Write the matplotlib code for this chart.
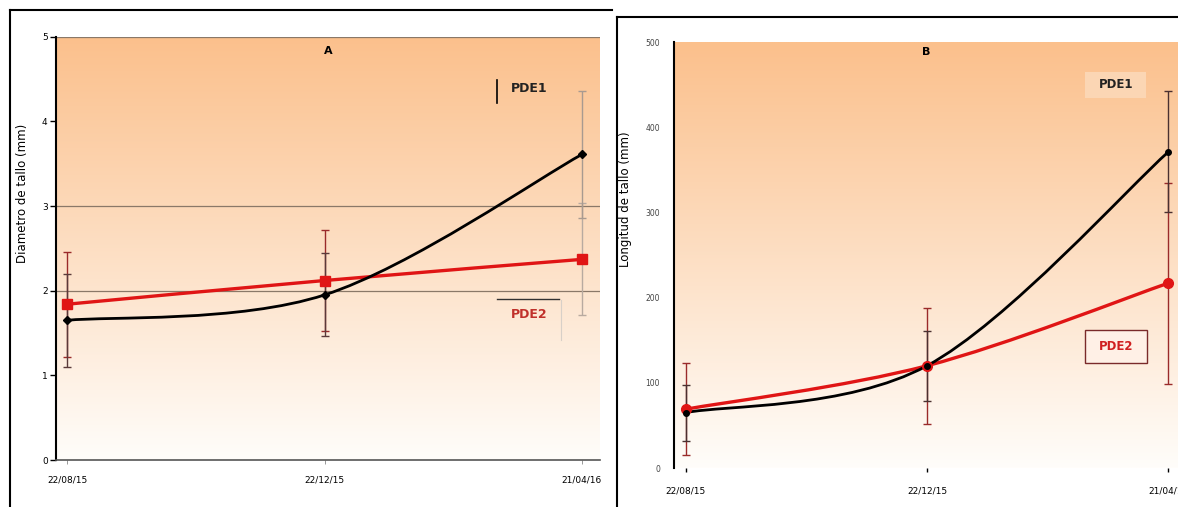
import matplotlib
matplotlib.use("Agg")
import matplotlib.pyplot as plt
import numpy as np
from matplotlib.path import Path
from matplotlib.patches import PathPatch, Rectangle
from matplotlib.lines import Line2D

# sampling dates (same for both panels)
dates = ["22/08/15", "22/12/15", "21/04/16"]

# panel A: stem diameter (mm)
diam_pde1 = [1.65, 1.95, 3.61]
diam_pde1_err = [0.55, 0.49, 0.75]
diam_pde2 = [1.84, 2.12, 2.37]
diam_pde2_err = [0.62, 0.60, 0.66]
diam_ticks = [0, 1, 2, 3, 4, 5]

# panel B: stem length (mm)
long_pde1 = [65, 120, 371]
long_pde1_err = [33, 41, 71]
long_pde2 = [69, 120, 217]
long_pde2_err = [54, 68, 118]
long_ticks = [0, 100, 200, 300, 400, 500]

W, H = 1178, 507


def fx(px):
    return px / W


def fy(py):
    return 1 - py / H


def smooth_path(xs, ys):
    # excel-like smoothed line: catmull-rom segments as cubic beziers
    pts = np.column_stack([xs, ys]).astype(float)
    n = len(pts)
    verts = [pts[0]]
    codes = [Path.MOVETO]
    for i in range(n - 1):
        p0 = pts[max(i - 1, 0)]
        p1 = pts[i]
        p2 = pts[i + 1]
        p3 = pts[min(i + 2, n - 1)]
        verts += [p1 + (p2 - p0) / 6, p2 - (p3 - p1) / 6, p2]
        codes += [Path.CURVE4] * 3
    return Path(verts, codes)


def gradient_bg(ax):
    top = np.array([251, 192, 140]) / 255
    bottom = np.array([255, 253, 250]) / 255
    t = np.linspace(0, 1, 256)[:, None]
    grad = top * (1 - t) + bottom * t
    grad = np.repeat(grad[:, None, :], 2, axis=1)
    ax.imshow(grad, extent=[0, 1, 0, 1], transform=ax.transAxes,
              aspect="auto", zorder=0, interpolation="bilinear")


def draw_series(ax, x, y, err, line_color, err_colors, marker, ms, lw):
    # err_colors: one colour per point
    for xi, yi, ei, ci in zip(x, y, err, err_colors):
        ax.errorbar([xi], [yi], yerr=[ei], fmt="none", ecolor=ci, elinewidth=1.0,
                    capsize=3, capthick=1.0, zorder=2)
    ax.add_patch(PathPatch(smooth_path(x, y), fill=False, edgecolor=line_color,
                           lw=lw, zorder=3, capstyle="round"))
    ax.plot(x, y, linestyle="none", marker=marker, ms=ms, color=line_color, zorder=4)


fig = plt.figure(figsize=(11.78, 5.07), dpi=100)
x = np.arange(len(dates))

# ---- panel A ----
ax_a = fig.add_axes([fx(56), fy(460), fx(600) - fx(56), fy(36.7) - fy(460)])
gradient_bg(ax_a)
for g in [2, 3, 5]:
    ax_a.axhline(g, color="#8a7868", lw=0.9, zorder=1)
draw_series(ax_a, x, diam_pde2, diam_pde2_err, "#e01515",
            ["#9a2a2a", "#9a2a2a", "#b8aaa0"], "s", 7, 2.4)
draw_series(ax_a, x, diam_pde1, diam_pde1_err, "black",
            ["#5a3a3a", "#5a3a3a", "#a89a90"], "D", 4, 2.0)
ax_a.set_xlim(-0.043, 2.07)
ax_a.set_ylim(0, 5)
ax_a.set_yticks(diam_ticks)
ax_a.set_yticklabels([str(t) for t in diam_ticks], fontsize=6.5)
ax_a.set_xticks(x)
ax_a.set_xticklabels(dates, fontsize=6.5)
ax_a.tick_params(axis="y", length=4, width=1, pad=2)
ax_a.tick_params(axis="x", length=3, width=0.6, color="#888888", pad=8)
ax_a.spines["top"].set_visible(False)
ax_a.spines["right"].set_visible(False)
ax_a.spines["left"].set_linewidth(1.5)
ax_a.spines["bottom"].set_color("#555555")
ax_a.spines["bottom"].set_linewidth(1.2)
ax_a.set_title("A", fontsize=8, fontweight="bold", y=0.94)
fig.text(fx(23), fy(193), "Diametro de tallo (mm)", rotation=90, fontsize=8.5,
         ha="center", va="center")

# legend-like labels for A
fig.text(fx(529), fy(88), "PDE1", fontsize=9, fontweight="bold", color="#222222",
         ha="center", va="center")
fig.add_artist(Line2D([fx(497), fx(497)], [fy(80), fy(103)], transform=fig.transFigure,
                      color="black", lw=1.2))
fig.text(fx(529), fy(315), "PDE2", fontsize=9, fontweight="bold", color="#c0302a",
         ha="center", va="center")
fig.add_artist(Line2D([fx(497), fx(559)], [fy(299), fy(299)], transform=fig.transFigure,
                      color="#333333", lw=1.0))
fig.add_artist(Line2D([fx(561), fx(561)], [fy(300), fy(340)], transform=fig.transFigure,
                      color="#d8d0c8", lw=0.8))

# ---- panel B ----
ax_b = fig.add_axes([fx(674), fy(468), fx(1178) - fx(674), fy(42) - fy(468)])
gradient_bg(ax_b)
draw_series(ax_b, x, long_pde2, long_pde2_err, "#e01515",
            ["#9a2a2a"] * 3, "o", 7, 2.4)
draw_series(ax_b, x, long_pde1, long_pde1_err, "black",
            ["#4a3030"] * 3, "o", 4, 2.0)
ax_b.set_xlim(-0.048, 2.04)
ax_b.set_ylim(0, 500)
ax_b.set_yticks(long_ticks)
ax_b.set_yticklabels([str(t) for t in long_ticks], fontsize=5.5, color="#444444")
ax_b.set_xticks(x)
ax_b.set_xticklabels(dates, fontsize=6.5)
ax_b.tick_params(axis="y", length=0, pad=10)
ax_b.tick_params(axis="x", length=3, width=1, pad=10)
for s in ["top", "right", "bottom"]:
    ax_b.spines[s].set_visible(False)
ax_b.spines["left"].set_linewidth(1.5)
ax_b.set_title("B", fontsize=8, fontweight="bold", y=0.95)
fig.text(fx(625), fy(199), "Longitud de tallo (mm)", rotation=90, fontsize=8.5,
         ha="center", va="center")

# legend-like labels for B
fig.add_artist(Rectangle((fx(1085), fy(98)), fx(1146) - fx(1085), fy(72) - fy(98),
                         transform=fig.transFigure, facecolor="#fbd6b4",
                         edgecolor="none", zorder=5))
fig.text(fx(1116), fy(85), "PDE1", fontsize=8.5, fontweight="bold", color="#222222",
         ha="center", va="center", zorder=6)
fig.add_artist(Rectangle((fx(1085), fy(363)), fx(1147) - fx(1085), fy(330) - fy(363),
                         transform=fig.transFigure, facecolor="#fff0e6",
                         edgecolor="#7a2a2a", lw=1.0, zorder=5))
fig.text(fx(1116), fy(346), "PDE2", fontsize=8.5, fontweight="bold", color="#d02020",
         ha="center", va="center", zorder=6)

# panel frames
for xs, ys in [([10, 612], [10, 10]), ([10, 10], [10, 507]),
               ([617, 1178], [17, 17]), ([617, 617], [17, 507])]:
    fig.add_artist(Line2D([fx(v) for v in xs], [fy(v) for v in ys],
                          transform=fig.transFigure, color="black", lw=1.5))

fig.savefig("out.png", dpi=100)
